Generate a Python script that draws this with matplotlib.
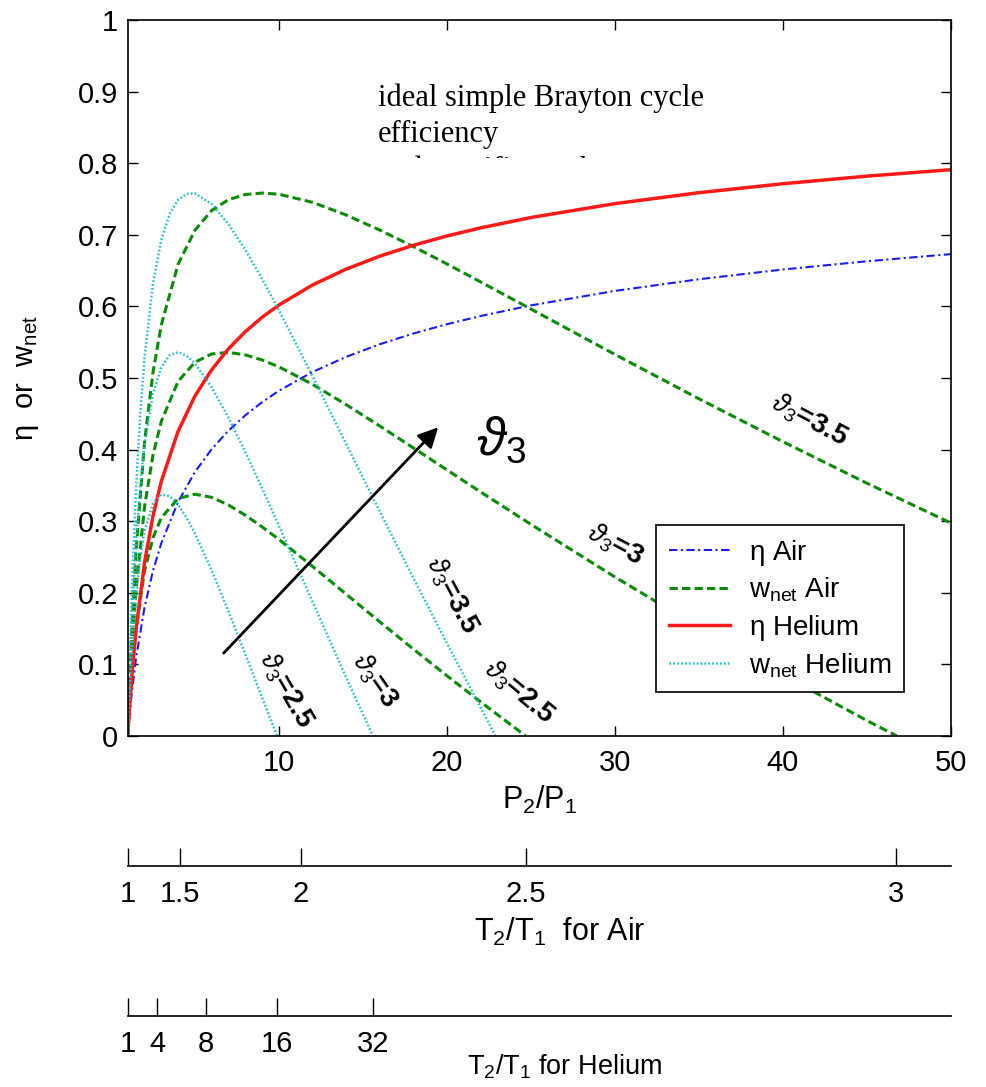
import numpy as np
import matplotlib
matplotlib.use("Agg")
import matplotlib.pyplot as plt
from matplotlib.patches import Rectangle
from matplotlib.lines import Line2D

plt.rcParams['font.family'] = ['Liberation Sans', 'DejaVu Sans']
plt.rcParams['mathtext.fontset'] = 'custom'
plt.rcParams['mathtext.rm'] = 'Liberation Sans'
plt.rcParams['mathtext.it'] = 'Liberation Sans:italic'
plt.rcParams['mathtext.bf'] = 'Liberation Sans:bold'
plt.rcParams['lines.scale_dashes'] = False

# pressure ratio grid and efficiency readings
p_ratio = [1, 1.1, 1.25, 1.5, 2, 2.5, 3, 4, 5, 6, 7, 8, 9, 10, 12, 14, 16, 18, 20, 22, 25, 30, 35, 40, 45, 50]
eta_air = [0, 0.0269, 0.0617, 0.1094, 0.1797, 0.2304, 0.2694, 0.3271, 0.3686, 0.4007, 0.4265, 0.4479, 0.4662,
           0.4821, 0.5084, 0.5295, 0.5471, 0.5621, 0.5751, 0.5865, 0.6014, 0.6216, 0.6379, 0.6515, 0.6630, 0.6730]
eta_he = [0, 0.0374, 0.0853, 0.1497, 0.2421, 0.3069, 0.3556, 0.4257, 0.4747, 0.5116, 0.5408, 0.5647, 0.5848,
          0.6019, 0.6299, 0.6520, 0.6701, 0.6853, 0.6983, 0.7096, 0.7241, 0.7435, 0.7588, 0.7713, 0.7819, 0.7909]

# net work, air
p_air35 = p_ratio
w_air35 = [0, 0.0666, 0.1502, 0.2601, 0.4100, 0.5071, 0.5742, 0.6589, 0.7063, 0.7340, 0.7491, 0.7563, 0.7583,
           0.7567, 0.7454, 0.7277, 0.7067, 0.6836, 0.6594, 0.6343, 0.5964, 0.5330, 0.4711, 0.4112, 0.3532, 0.2976]
p_air3 = [1, 1.1, 1.25, 1.5, 2, 2.5, 3, 4, 5, 6, 7, 8, 9, 10, 12, 14, 16, 18, 20, 22, 25, 30, 35, 40, 45, 46.8]
w_air3 = [0, 0.0531, 0.1193, 0.2054, 0.3201, 0.3919, 0.4395, 0.4953, 0.5220, 0.5336, 0.5358, 0.5323, 0.5252,
          0.5156, 0.4912, 0.4629, 0.4331, 0.4025, 0.3718, 0.3410, 0.2957, 0.2222, 0.1521, 0.0854, 0.0217, 0]
p_air25 = [1, 1.1, 1.25, 1.5, 2, 2.5, 3, 4, 5, 6, 7, 8, 9, 10, 12, 14, 16, 18, 20, 22, 24.7]
w_air25 = [0, 0.0397, 0.0885, 0.1507, 0.2303, 0.2767, 0.3048, 0.3318, 0.3377, 0.3333, 0.3226, 0.3084, 0.2921,
           0.2746, 0.2370, 0.1982, 0.1596, 0.1215, 0.0843, 0.0478, 0]

# net work, helium
p_he35 = [1, 1.1, 1.25, 1.5, 1.75, 2, 2.5, 3, 3.5, 4, 4.5, 5, 6, 7, 8, 9, 10, 12, 14, 16, 18, 20, 22, 22.9]
w_he35 = [0, 0.0920, 0.2053, 0.3479, 0.4512, 0.5279, 0.6315, 0.6928, 0.7291, 0.7489, 0.7573, 0.7578, 0.7429,
          0.7149, 0.6791, 0.6386, 0.5948, 0.5028, 0.4082, 0.3140, 0.2209, 0.1297, 0.0404, 0]
p_he3 = [1, 1.1, 1.25, 1.5, 1.75, 2, 2.5, 3, 3.5, 4, 4.5, 5, 6, 7, 8, 9, 10, 12, 14, 15.6]
w_he3 = [0, 0.0733, 0.1626, 0.2730, 0.3509, 0.4068, 0.4780, 0.5150, 0.5320, 0.5360, 0.5312, 0.5204, 0.4871,
         0.4445, 0.3967, 0.3462, 0.2938, 0.1878, 0.0822, 0]
p_he25 = [1, 1.1, 1.25, 1.5, 1.75, 2, 2.5, 3, 3.5, 4, 4.5, 5, 6, 7, 8, 9, 9.9]
w_he25 = [0, 0.0546, 0.1200, 0.1982, 0.2506, 0.2858, 0.3246, 0.3372, 0.3349, 0.3232, 0.3052, 0.2831, 0.2313,
          0.1741, 0.1144, 0.0538, 0]

# temperature ratio scales (positions on the P2/P1 axis)
air_T_pos = [1, 4.134, 11.314, 24.705, 46.77]
air_T_lab = ['1', '1.5', '2', '2.5', '3']
he_T_pos = [1, 2.756, 5.657, 9.882, 15.588]
he_T_lab = ['1', '4', '8', '16', '32']

c_blue = '#1a1aff'
c_green = '#0a8c0a'
c_red = '#ff1a1a'
c_cyan = '#22c0c8'

fig = plt.figure(figsize=(9.87, 10.87), dpi=100)
ax = fig.add_axes([0.1294, 0.3229, 0.8338, 0.6587])

ls_dashdot = (0, (6, 2.5, 1.5, 2.5))
ls_dash = (0, (6, 3))
ls_dot = (0, (1.2, 1.6))

ax.plot(p_ratio, eta_air, color=c_blue, lw=1.5, ls=ls_dashdot)
for p, w in [(p_air35, w_air35), (p_air3, w_air3), (p_air25, w_air25)]:
    ax.plot(p, w, color=c_green, lw=2.2, ls=ls_dash)
ax.plot(p_ratio, eta_he, color=c_red, lw=2.5)
for p, w in [(p_he35, w_he35), (p_he3, w_he3), (p_he25, w_he25)]:
    ax.plot(p, w, color=c_cyan, lw=1.8, ls=ls_dot)

ax.set_xlim(1, 50)
ax.set_ylim(0, 1)
ax.set_xticks([10, 20, 30, 40, 50])
ax.set_yticks(np.arange(0, 1.01, 0.1))
ax.set_yticklabels(['0', '0.1', '0.2', '0.3', '0.4', '0.5', '0.6', '0.7', '0.8', '0.9', '1'])
ax.tick_params(direction='in', top=True, right=True, length=7, width=1, labelsize=21)
ax.tick_params(axis='x', pad=9)
ax.tick_params(axis='y', pad=7)
for s in ax.spines.values():
    s.set_linewidth(1.2)
ax.set_xlabel('P$_2$/P$_1$', fontsize=22, labelpad=5)
ax.set_ylabel(r'$\mathrm{\eta}$  or  w$_{\rm net}$', fontsize=21)
ax.yaxis.set_label_coords(-0.105, 0.5)

# legend
handles = [Line2D([], [], color=c_blue, lw=1.5, ls=ls_dashdot),
           Line2D([], [], color=c_green, lw=2.2, ls=ls_dash),
           Line2D([], [], color=c_red, lw=2.5),
           Line2D([], [], color=c_cyan, lw=1.8, ls=ls_dot)]
labels = [r'$\mathrm{\eta}$ Air', r'w$_{\rm net}$ Air', r'$\mathrm{\eta}$ Helium', r'w$_{\rm net}$ Helium']
leg = ax.legend(handles, labels, loc='upper left', bbox_to_anchor=(0.642, 0.2947), fontsize=20,
                frameon=True, fancybox=False, edgecolor='k', framealpha=1, handlelength=2.2,
                handletextpad=0.7, labelspacing=0.3, borderpad=0.45, borderaxespad=0)
leg.get_frame().set_linewidth(1.2)

# arrow and theta_3 marker
ax.annotate('', xy=(19.6, 0.434), xytext=(6.6, 0.113),
            arrowprops=dict(arrowstyle='-|>', color='k', lw=2, mutation_scale=30))
ax.text(23.2, 0.413, r'$\vartheta_3$', fontsize=38, ha='center', va='center')

# curve labels
curve_labels = [(41.6, 0.441, -28, '3.5'), (30.0, 0.267, -28, '3'), (24.3, 0.062, -40, '2.5'),
                (10.4, 0.064, -60, '2.5'), (15.7, 0.078, -55, '3'), (20.3, 0.197, -62, '3.5')]
for x, y, rot, v in curve_labels:
    ax.text(x, y, r'$\vartheta_3$=' + v, fontsize=20, fontweight='bold', rotation=rot,
            rotation_mode='anchor', ha='center', va='center')

# title text, third line partly hidden
t = fig.text(0.383, 0.9236, 'ideal simple Brayton cycle\nefficiency\nand specific work',
             family='Liberation Serif', fontsize=22, va='top', ha='left', linespacing=1.32)
clip = Rectangle((0, 0.8545), 1, 0.1455, transform=fig.transFigure)
t.set_clip_path(clip)

# temperature ratio axes
for ypos, pos, lab, name, lx, lpad, lsize in [
        (0.2033, air_T_pos, air_T_lab, 'T$_2$/T$_1$  for Air', 0.525, 6, 22),
        (0.0653, he_T_pos, he_T_lab, 'T$_2$/T$_1$ for Helium', 0.531, -4, 19.5)]:
    a2 = fig.add_axes([0.1294, ypos, 0.8338, 0.0001])
    a2.patch.set_visible(False)
    for side in ['left', 'right', 'top']:
        a2.spines[side].set_visible(False)
    a2.spines['bottom'].set_linewidth(1.2)
    a2.set_xlim(1, 50)
    a2.set_yticks([])
    a2.set_xticks(pos)
    a2.set_xticklabels(lab)
    a2.tick_params(axis='x', direction='in', length=13, width=1, labelsize=21, pad=10)
    a2.set_xlabel(name, fontsize=lsize, labelpad=lpad)
    a2.xaxis.label.set_x(lx)

fig.savefig('out.png', dpi=100)
